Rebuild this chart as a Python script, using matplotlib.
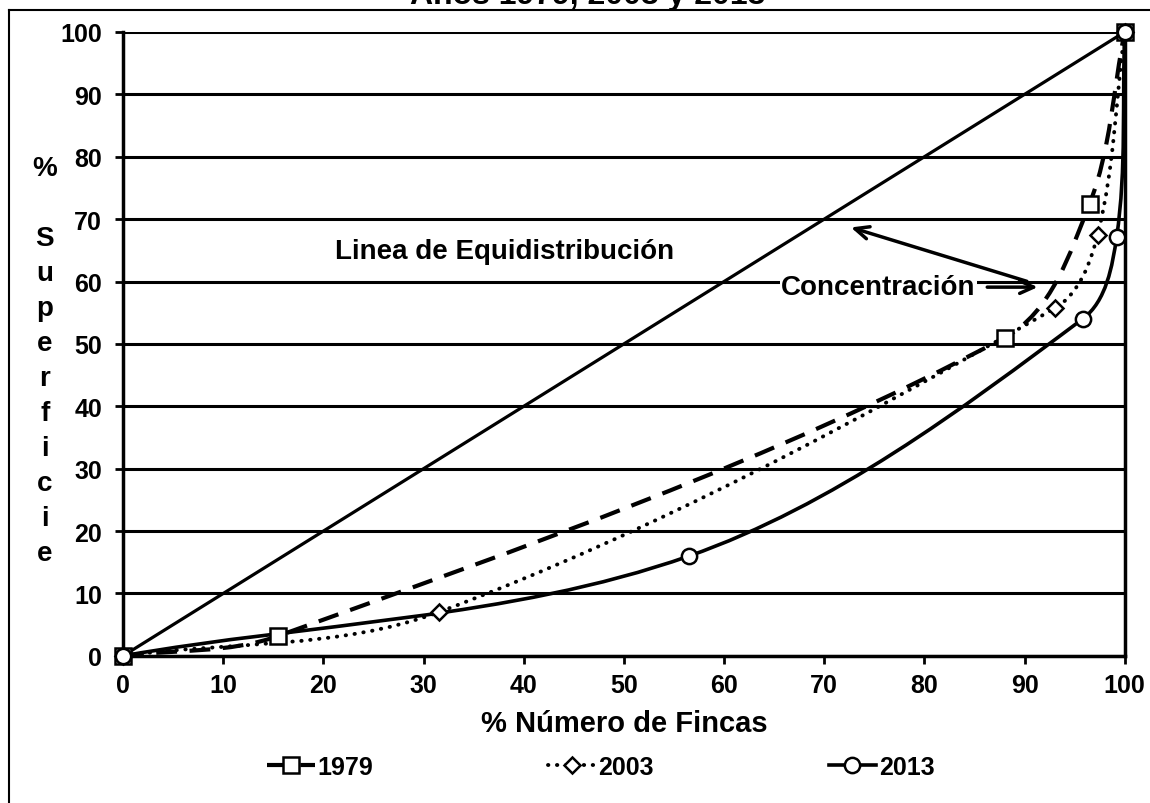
import numpy as np
import matplotlib
matplotlib.use('Agg')
import matplotlib.pyplot as plt
from matplotlib.path import Path
from matplotlib.patches import PathPatch
from matplotlib.lines import Line2D

plt.rcParams['font.family'] = ['Liberation Sans', 'DejaVu Sans']
plt.rcParams['font.weight'] = 'bold'

# Lorenz curves: % number of farms (x) vs % area (y)
x_1979 = [0, 15.5, 88.0, 96.5, 100]
y_1979 = [0, 3.2, 51.0, 72.5, 100]
x_2003 = [0, 31.5, 93.0, 97.3, 100]
y_2003 = [0, 7.0, 55.7, 67.5, 100]
x_2013 = [0, 56.5, 95.8, 99.2, 100]
y_2013 = [0, 16.0, 54.0, 67.2, 100]
x_equi = [0, 100]
y_equi = [0, 100]

years = ['1979', '2003', '2013']
yticks = list(range(0, 101, 10))


def smooth_path(xs, ys, yscale=0.623):
    # Excel-like smoothed line: cubic bezier through the points
    p = np.column_stack([np.asarray(xs, float), np.asarray(ys, float) * yscale])
    n = len(p)
    verts = [p[0]]
    codes = [Path.MOVETO]
    for i in range(n - 1):
        a, b = p[i], p[i + 1]
        seg = np.linalg.norm(b - a)
        da = (p[i + 1] - p[i - 1]) if i > 0 else (b - a)
        db = (p[i + 2] - p[i]) if i + 2 < n else (b - a)
        da = da / np.linalg.norm(da)
        db = db / np.linalg.norm(db)
        verts += [a + da * seg / 3, b - db * seg / 3, b]
        codes += [Path.CURVE4] * 3
    verts = np.array(verts)
    verts[:, 1] /= yscale
    return Path(verts, codes)


fig = plt.figure(figsize=(11.5, 8.04), dpi=100)
ax = fig.add_axes([0.107, 0.183, 0.871, 0.776])

ax.set_xlim(0, 100)
ax.set_ylim(0, 100)
ax.set_xticks(yticks)
ax.set_yticks(yticks)
ax.yaxis.grid(True, color='black', lw=2.2)
ax.set_axisbelow(True)
for side in ['left', 'bottom', 'right']:
    ax.spines[side].set_linewidth(2.5)
ax.spines['top'].set_visible(False)
ax.tick_params(direction='out', length=6, width=2, labelsize=18, pad=6)
ax.tick_params(axis='y', pad=9)

ax.plot(x_equi, y_equi, color='black', lw=2.3, solid_capstyle='butt')

styles = [
    (x_1979, y_1979, (0, (5, 3)), 3.0, 's', 11),
    (x_2003, y_2003, (0, (0.1, 2.2)), 2.8, 'D', 8.5),
    (x_2013, y_2013, '-', 2.6, 'o', 11),
]
handles = []
for xs, ys, ls, lw, mk, ms in styles:
    cap = 'round' if mk == 'D' else 'butt'
    ax.add_patch(PathPatch(smooth_path(xs, ys), fill=False, ec='black', lw=lw,
                           linestyle=ls, capstyle=cap, joinstyle='round', zorder=3))
    ax.plot(xs, ys, linestyle='none', marker=mk, ms=ms, mfc='white', mec='black',
            mew=1.8, clip_on=False, zorder=4)
    handles.append(Line2D([0], [0], color='black', lw=lw, linestyle=ls,
                          dash_capstyle=cap, marker=mk, ms=ms, mfc='white',
                          mec='black', mew=1.8))

ax.set_xlabel('% Número de Fincas', fontsize=21, weight='bold')
ax.xaxis.set_label_coords(0.5, -0.085)
ax.set_ylabel('%\n\nS\nu\np\ne\nr\nf\ni\nc\ni\ne', fontsize=20, weight='bold',
              rotation=0, va='center', ha='center', linespacing=1.45)
ax.yaxis.set_label_coords(-0.078, 0.474)

ax.text(38.1, 64.9, 'Linea de Equidistribución', fontsize=20, weight='bold',
        ha='center', va='center')
ax.text(75.4, 59.1, 'Concentración', fontsize=20, weight='bold', ha='center',
        va='center', bbox=dict(fc='white', ec='none', pad=1))
ax.annotate('', xy=(72.4, 68.8), xytext=(90.5, 59.9),
            arrowprops=dict(arrowstyle='->,head_length=1.0,head_width=0.45',
                            lw=2.5, color='black'))
ax.annotate('', xy=(91.6, 59.1), xytext=(86.0, 59.1),
            arrowprops=dict(arrowstyle='->,head_length=1.0,head_width=0.45',
                            lw=2.5, color='black'))

ax.legend(handles, years, loc='center', bbox_to_anchor=(0.477, -0.178),
          ncol=3, frameon=False, fontsize=18, handlelength=1.9,
          handletextpad=0.1, columnspacing=7.0)

fig.text(588 / 1150, 1 - 4 / 804, 'Años 1979, 2003 y 2013', ha='center',
         va='baseline', fontsize=23, weight='bold')
fig.add_artist(Line2D([9 / 1150, 9 / 1150], [0, 1 - 11 / 804],
                      transform=fig.transFigure, color='black', lw=1.5))
fig.add_artist(Line2D([9 / 1150, 1], [1 - 11 / 804, 1 - 11 / 804],
                      transform=fig.transFigure, color='black', lw=1.5))

fig.savefig('out.png', dpi=100)
